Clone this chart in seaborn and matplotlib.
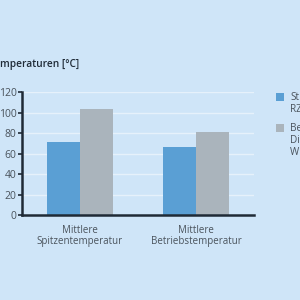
import matplotlib
matplotlib.use("Agg")
import matplotlib.pyplot as plt
from matplotlib.patches import Rectangle
import seaborn as sns
import pandas as pd

categories = ["Mittlere\nSpitzentemperatur", "Mittlere\nBetriebstemperatur"]
series_names = ["St\nRZ", "Be\nDi\nW"]
series_a = [71, 66]
series_b = [103, 81]
yticks = [0, 20, 40, 60, 80, 100, 120]
title = "mperaturen [°C]"

bg = "#cfe5f8"
colors = ["#5a9fd4", "#aab4bc"]
dark = "#1f2a36"
txt = "#4a535c"

df = pd.DataFrame({
    "cat": categories * 2,
    "series": [series_names[0]] * 2 + [series_names[1]] * 2,
    "value": series_a + series_b,
})

sns.set_theme(style="white")
plt.rcParams["font.family"] = ["Open Sans", "DejaVu Sans"]

fig = plt.figure(figsize=(3, 3), dpi=100, facecolor=bg)
ax = fig.add_axes([0.0733, 0.2833, 0.7737, 0.41])
ax.set_facecolor(bg)

sns.barplot(data=df, x="cat", y="value", hue="series", palette=colors,
            width=0.565, saturation=1, linewidth=0, ax=ax, legend=False)

ax.set_xlim(-0.5, 1.5)
ax.set_ylim(0, 120)
ax.set_yticks(yticks)
ax.yaxis.grid(True, color="#e6f1fb", linewidth=1.0)
ax.set_axisbelow(True)
for s in ["top", "right"]:
    ax.spines[s].set_visible(False)
for s in ["left", "bottom"]:
    ax.spines[s].set_color(dark)
    ax.spines[s].set_linewidth(1.8)
ax.tick_params(axis="y", left=True, length=3, width=1.2, color=dark,
               labelsize=7.5, labelcolor=txt, pad=1)
ax.tick_params(axis="x", bottom=False, labelsize=7, labelcolor=txt, pad=1)
for lab in ax.get_xticklabels():
    lab.set_linespacing(1.05)
ax.set_xlabel("")
ax.set_ylabel("")

# legend (manual, cut at right edge like the reference)
leg_y = [1 - 93 / 300, 1 - 124 / 300]
for name, col, y in zip(series_names, colors, leg_y):
    fig.add_artist(Rectangle((276 / 300, y - 8 / 300), 8 / 300, 8 / 300,
                             transform=fig.transFigure, facecolor=col,
                             edgecolor="none"))
    fig.text(290 / 300, y + 1 / 300, name, fontsize=7.2, color=txt,
             ha="left", va="top", linespacing=1.1)

fig.text(0.0, 0.785, title, fontsize=7.3, fontweight="semibold", color=dark,
         ha="left", va="center")

fig.savefig("out.png", dpi=100, facecolor=bg)
